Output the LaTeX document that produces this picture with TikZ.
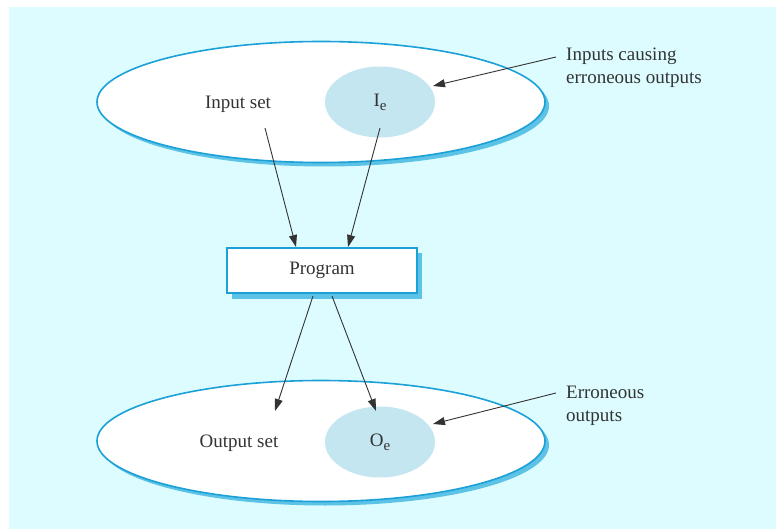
\documentclass[tikz,border=0pt]{standalone}
\usepackage{fontspec}
\setmainfont{Liberation Serif}
\usetikzlibrary{shapes.geometric,arrows.meta}
\definecolor{bgcyan}{HTML}{DCFCFF}
\definecolor{rimblue}{HTML}{1BA0D8}
\definecolor{shadeblue}{HTML}{5CC2E6}
\definecolor{subfill}{HTML}{C4E6F0}
\definecolor{ink}{HTML}{333333}
% subscript set a little larger than the default
\newcommand{\lowsub}[1]{\raisebox{-4pt}{\fontsize{15}{15}\selectfont #1}}
\tikzset{
  setshape/.style={ellipse, draw=rimblue, line width=1.6pt, fill=white,
    minimum width=448pt, minimum height=121pt, inner sep=0pt},
  setshadow/.style={ellipse, fill=shadeblue, minimum width=448pt,
    minimum height=121pt, inner sep=0pt},
  subset/.style={ellipse, fill=subfill, minimum width=110pt,
    minimum height=71pt, inner sep=0pt, text=ink,
    font=\fontsize{19}{22}\selectfont},
  label/.style={text=ink, font=\fontsize{19}{22}\selectfont, inner sep=0pt},
  note/.style={text=ink, font=\fontsize{19}{23}\selectfont, align=left,
    inner sep=0pt, anchor=west},
  progbox/.style={draw=rimblue, line width=1.6pt, fill=white,
    minimum width=190pt, minimum height=45pt, inner sep=0pt,
    font=\fontsize{19}{22}\selectfont, text=ink},
  progshadow/.style={fill=shadeblue, minimum width=190pt,
    minimum height=45pt, inner sep=0pt},
  flow/.style={draw=ink, line width=0.9pt,
    -{Triangle[length=12pt,width=8pt]}},
}
\begin{document}
\begin{tikzpicture}[x=1pt,y=-1pt]
  \useasboundingbox (0,0) rectangle (776,529);
  \fill[white] (0,0) rectangle (776,529);
  \fill[bgcyan] (9,7) rectangle (776,529);

  % input set
  \node[setshadow] (inshadow) at (325,106) {};
  \node[setshape] (inset) at (321,102) {};
  \node[subset] (ie) at (380,102) {I\lowsub{e}};
  \node[label] (intext) at (238,104) {Input set};

  % program
  \node[progshadow] (progshadow) at (327,276) {};
  \node[progbox] (prog) at (322,270.5) {Program};

  % output set
  \node[setshadow] (outshadow) at (325,445) {};
  \node[setshape] (outset) at (321,441) {};
  \node[subset] (oe) at (380,442) {O\lowsub{e}};
  \node[label] (outtext) at (239,443) {Output set};

  % annotations
  \node[note] (ienote) at (566,68) {Inputs causing\\erroneous outputs};
  \node[note] (oenote) at (566,406) {Erroneous\\outputs};

  % connector end points
  \coordinate (a1) at (265,128);
  \coordinate (a2) at (296,247);
  \coordinate (b1) at (380,128);
  \coordinate (b2) at (348,247);
  \coordinate (c1) at (313,296);
  \coordinate (c2) at (275,411);
  \coordinate (d1) at (332,296);
  \coordinate (d2) at (376,411);
  \coordinate (e1) at (556,57);
  \coordinate (e2) at (433,86);
  \coordinate (f1) at (556,393);
  \coordinate (f2) at (433,424);

  \draw[flow] (a1) -- (a2);
  \draw[flow] (b1) -- (b2);
  \draw[flow] (c1) -- (c2);
  \draw[flow] (d1) -- (d2);
  \draw[flow] (e1) -- (e2);
  \draw[flow] (f1) -- (f2);
\end{tikzpicture}
\end{document}
